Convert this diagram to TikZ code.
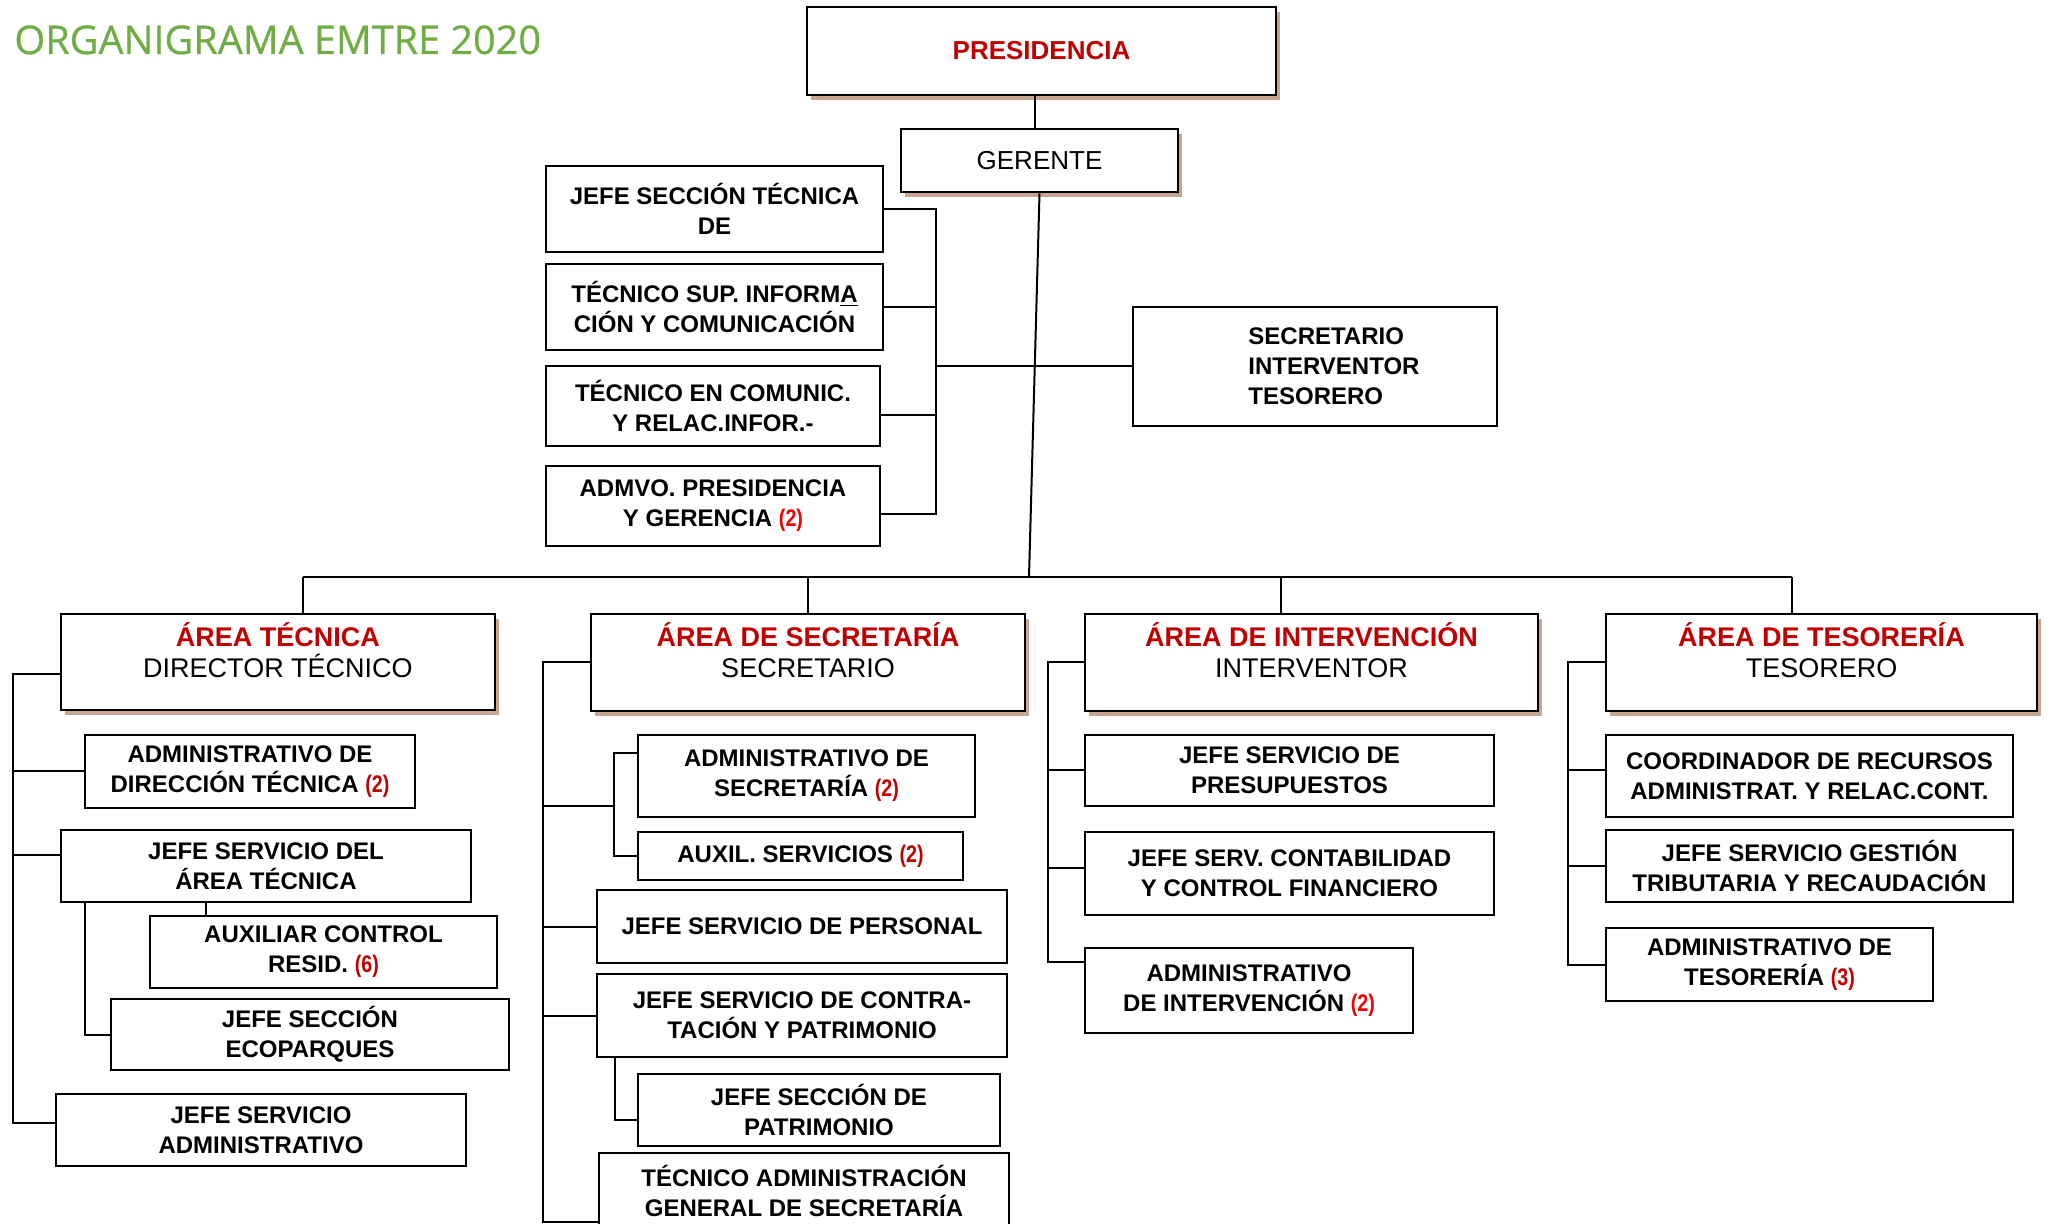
\documentclass[tikz,border=0pt]{standalone}
\usepackage{fontspec}
\setmainfont{Liberation Sans}
\newfontfamily\titlefont[FakeBold=0.6]{Open Sans}
\usetikzlibrary{shadows}
\definecolor{titlegreen}{RGB}{112,173,71}
\definecolor{darkred}{RGB}{192,0,0}
\definecolor{brightred}{RGB}{240,0,0}
\definecolor{shadowc}{RGB}{200,165,145}
\newcommand\dnum[1]{{\color{darkred}\scalebox{0.82}[1]{#1}}}
\newcommand\bnum[1]{{\color{brightred}\scalebox{0.82}[1]{#1}}}
\begin{document}
\begin{tikzpicture}[x=0.5pt,y=-0.5pt,
  wh/.style 2 args={minimum width=#1*0.5pt,minimum height=#2*0.5pt},
  thickbox/.style={draw,line width=1.4pt,fill=white,inner sep=0pt,
    drop shadow={opacity=1,fill=shadowc,shadow xshift=2pt,shadow yshift=-2.5pt}},
  thinbox/.style={draw,line width=0.8pt,fill=white,inner sep=0pt,align=center,
    font=\bfseries\fontsize{12}{15}\selectfont},
  areatitle/.style={align=center,inner sep=0pt,font=\fontsize{13.5}{15.5}\selectfont},
  conn/.style={line width=1pt}]
\clip (0,0) rectangle (2047,1224);

% title
\node[anchor=base west,inner sep=0pt,text=titlegreen,
  font=\titlefont\fontsize{19.8}{22}\selectfont] (title) at (14,54)
  {ORGANIGRAMA EMTRE 2020};

% top
\node[thickbox,wh={469}{88},font=\bfseries\fontsize{13}{15}\selectfont,text=darkred] (pres) at (1041.5,51) {PRESIDENCIA};
\node[thickbox,wh={277}{63},font=\fontsize{13}{15}\selectfont] (ger) at (1039.5,160.5) {GERENTE};

% staff
\node[thinbox,wh={337}{86}] (s1) at (714.5,209) {JEFE SECCIÓN TÉCNICA\\DE};
\node[thinbox,wh={337}{86}] (s2) at (714.5,307) {TÉCNICO SUP. INFORM\underline{A}\\CIÓN Y COMUNICACIÓN};
\node[thinbox,wh={334}{80}] (s3) at (713,406) {TÉCNICO EN COMUNIC.\\Y RELAC.INFOR.-};
\node[thinbox,wh={334}{80}] (s4) at (713,506) {ADMVO. PRESIDENCIA\\Y GERENCIA \bnum{(2)}};
\node[thinbox,wh={364}{119}] (sit) at (1315,366.5) {};
\node[anchor=west,align=left,inner sep=0pt,font=\bfseries\fontsize{12}{15}\selectfont] (sittext) at (1248,366) {SECRETARIO\\INTERVENTOR\\TESORERO};

% areas
\node[thickbox,wh={434}{96}] (a1) at (278,662) {};
\node[areatitle] (a1t) at (278,650) {{\bfseries\color{darkred}ÁREA TÉCNICA}\\DIRECTOR TÉCNICO};
\node[thickbox,wh={434}{97}] (a2) at (808,662.5) {};
\node[areatitle] (a2t) at (808,650) {{\bfseries\color{darkred}ÁREA DE SECRETARÍA}\\SECRETARIO};
\node[thickbox,wh={453}{97}] (a3) at (1311.5,662.5) {};
\node[areatitle] (a3t) at (1311.5,650) {{\bfseries\color{darkred}ÁREA DE INTERVENCIÓN}\\INTERVENTOR};
\node[thickbox,wh={431}{97}] (a4) at (1821.5,662.5) {};
\node[areatitle] (a4t) at (1821.5,650) {{\bfseries\color{darkred}ÁREA DE TESORERÍA}\\TESORERO};

% area tecnica
\node[thinbox,wh={330}{73}] (l1) at (250,771.5) {ADMINISTRATIVO DE\\DIRECCIÓN TÉCNICA \dnum{(2)}};
\node[thinbox,wh={410}{72}] (l2) at (266,866) {JEFE SERVICIO DEL\\ÁREA TÉCNICA};
\node[thinbox,wh={347}{72}] (l3) at (323.5,952) {AUXILIAR CONTROL\\RESID. \dnum{(6)}};
\node[thinbox,wh={398}{71}] (l4) at (310,1034.5) {JEFE SECCIÓN\\ECOPARQUES};
\node[thinbox,wh={410}{72}] (l5) at (261,1130) {JEFE SERVICIO\\ADMINISTRATIVO};

% area secretaria
\node[thinbox,wh={337}{82}] (m1) at (806.5,776) {ADMINISTRATIVO DE\\SECRETARÍA \dnum{(2)}};
\node[thinbox,wh={325}{48}] (m2) at (800.5,856) {AUXIL. SERVICIOS \dnum{(2)}};
\node[thinbox,wh={410}{73}] (m3) at (802,926.5) {JEFE SERVICIO DE PERSONAL};
\node[thinbox,wh={410}{83}] (m4) at (802,1015.5) {JEFE SERVICIO DE CONTRA-\\TACIÓN Y PATRIMONIO};
\node[thinbox,wh={362}{72}] (m5) at (819,1110) {JEFE SECCIÓN DE\\PATRIMONIO};
\node[thinbox,wh={410}{75}] (m6) at (804,1190.5) {TÉCNICO ADMINISTRACIÓN\\GENERAL DE SECRETARÍA};

% area intervencion
\node[thinbox,wh={409}{71}] (r1) at (1289.5,770.5) {JEFE SERVICIO DE\\PRESUPUESTOS};
\node[thinbox,wh={409}{83}] (r2) at (1289.5,873.5) {JEFE SERV. CONTABILIDAD\\Y CONTROL FINANCIERO};
\node[thinbox,wh={328}{85}] (r3) at (1249,990.5) {ADMINISTRATIVO\\DE INTERVENCIÓN \bnum{(2)}};

% area tesoreria
\node[thinbox,wh={407}{82}] (t1) at (1809.5,776) {COORDINADOR DE RECURSOS\\ADMINISTRAT. Y RELAC.CONT.};
\node[thinbox,wh={407}{72}] (t2) at (1809.5,866) {JEFE SERVICIO GESTIÓN\\TRIBUTARIA Y RECAUDACIÓN};
\node[thinbox,wh={327}{73}] (t3) at (1769.5,964.5) {ADMINISTRATIVO DE\\TESORERÍA \dnum{(3)}};

% ---------- connectors ----------
\coordinate (pgx) at (1035,110);
\draw[conn] (pres.south -| pgx) -- (ger.north -| pgx);
% staff bus
\coordinate (stt) at (936,209);
\coordinate (stb) at (936,514);
\coordinate (s3c) at ([yshift=-4.5pt]s3.east);
\coordinate (s4c) at ([yshift=-4pt]s4.east);
\draw[conn] (s1.east) -- (stt) -- (stb) -- (s4c);
\draw[conn] (s2.east) -- (s2.east -| stt);
\draw[conn] (s3c) -- (s3c -| stt);
\draw[conn] (sit.west) -- (sit.west -| stt);
% main bus
\coordinate (busj) at (1029,577);
\coordinate (busL) at (303,577);
\coordinate (busR) at (1792,577);
\coordinate (d3) at (1281,577);
\draw[conn] (ger.south) -- (busj);
\draw[conn] (busL) -- (busR);
\draw[conn] (busL) -- (a1.north -| busL);
\draw[conn] (a2.north |- busL) -- (a2.north);
\draw[conn] (d3) -- (a3.north -| d3);
\draw[conn] (busR) -- (a4.north -| busR);
% area tecnica
\coordinate (lbb) at (13,1123);
\draw[conn] ([yshift=-6pt]a1.west) -| (lbb) -- (lbb -| l5.west);
\draw[conn] (l1.west) -- (l1.west -| lbb);
\coordinate (l2c) at ([yshift=5.5pt]l2.west);
\draw[conn] (l2c) -- (l2c -| lbb);
\coordinate (l23) at (206,900);
\draw[conn] (l2.south -| l23) -- (l3.north -| l23);
\coordinate (l2x) at (85,900);
\draw[conn] (l2.south -| l2x) |- (l4.west);
% area secretaria
\coordinate (mbb) at (543,1222);
\draw[conn] (a2.west) -| (mbb) -- (mbb -| m6.west);
\coordinate (msx) at (614,806);
\draw[conn] (msx -| mbb) -- (msx);
\draw[conn] ([yshift=11.5pt]m1.west) -| (m2.west -| msx) -- (m2.west);
\draw[conn] (m3.west) -- (m3.west -| mbb);
\draw[conn] (m4.west) -- (m4.west -| mbb);
\coordinate (mpx) at (615,1100);
\draw[conn] (m4.south -| mpx) |- ([yshift=-5pt]m5.west);
% area intervencion
\coordinate (rbb) at (1048,962);
\draw[conn] (a3.west) -| (rbb) -- (rbb -| r3.west);
\draw[conn] (r1.west) -- (r1.west -| rbb);
\coordinate (r2c) at ([yshift=2.5pt]r2.west);
\draw[conn] (r2c) -- (r2c -| rbb);
% area tesoreria
\coordinate (tbb) at (1568,965);
\draw[conn] (a4.west) -| (tbb) -- (tbb -| t3.west);
\coordinate (t1c) at ([yshift=3pt]t1.west);
\draw[conn] (t1c) -- (t1c -| tbb);
\draw[conn] (t2.west) -- (t2.west -| tbb);
\end{tikzpicture}
\end{document}
